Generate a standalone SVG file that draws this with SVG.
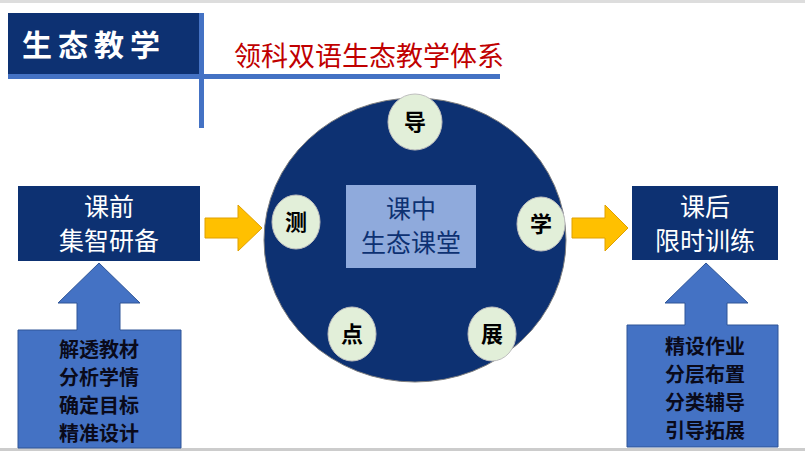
<svg xmlns="http://www.w3.org/2000/svg" width="805" height="451" viewBox="0 0 805 451">
<style>
.cjk{font-family:"Noto Sans CJK SC","Liberation Sans",sans-serif}
.dot{fill:#E2EFD9;stroke:#BFBFBF;stroke-width:1}
.dt{font-size:22px;font-weight:bold;fill:#000;text-anchor:middle}
.bx{fill:#0D3172}
.bt{font-size:25px;fill:#fff;text-anchor:middle}
.lst{font-size:20px;font-weight:bold;fill:#0a0a1a;text-anchor:middle}
.up{fill:#4472C4;stroke:#2F5597;stroke-width:1}
.ya{fill:#FFC000;stroke:#E0A000;stroke-width:1}
</style>
<rect width="805" height="451" fill="#fff"/>
<rect x="0" y="0" width="805" height="3" fill="#ddd"/>
<rect x="0" y="448" width="805" height="3" fill="#ccc"/>
<g id="title">
<rect x="8" y="13" width="192" height="62" fill="#0D3172"/>
<text x="22" y="56" class="cjk" font-size="30" font-weight="bold" fill="#fff" letter-spacing="6">生态教学</text>
<rect x="8" y="74" width="492" height="5" fill="#4472C4"/>
<rect x="199" y="13" width="5" height="115" fill="#4472C4"/>
<text x="234" y="66" class="cjk" font-size="27" fill="#C00000">领科双语生态教学体系</text>
</g>
<g id="circle">
<ellipse cx="415" cy="240" rx="151" ry="142" fill="#0D3172" stroke="#7f7f7f" stroke-width="1"/>
<rect x="346" y="185" width="130" height="83" fill="#8FAADC"/>
<text x="411" y="218" class="cjk" font-size="25" fill="#0D3172" text-anchor="middle">课中</text>
<text x="411" y="252" class="cjk" font-size="25" fill="#0D3172" text-anchor="middle">生态课堂</text>
</g>
<g id="dao"><ellipse class="dot" cx="415" cy="122" rx="27" ry="28"/><text class="cjk dt" x="415" y="130">导</text></g>
<g id="ce"><ellipse class="dot" cx="296" cy="222" rx="24" ry="27"/><text class="cjk dt" x="296" y="230">测</text></g>
<g id="xue"><ellipse class="dot" cx="541" cy="224" rx="24" ry="27"/><text class="cjk dt" x="541" y="232">学</text></g>
<g id="dian"><ellipse class="dot" cx="352" cy="334" rx="24" ry="27"/><text class="cjk dt" x="352" y="342">点</text></g>
<g id="zhan"><ellipse class="dot" cx="492" cy="334" rx="24" ry="27"/><text class="cjk dt" x="492" y="342">展</text></g>
<g id="pre">
<rect class="bx" x="18" y="186" width="182" height="75"/>
<text class="cjk bt" x="109" y="216">课前</text>
<text class="cjk bt" x="109" y="250">集智研备</text>
</g>
<g id="post">
<rect class="bx" x="632" y="186" width="146" height="74"/>
<text class="cjk bt" x="705" y="216">课后</text>
<text class="cjk bt" x="705" y="250">限时训练</text>
</g>
<g id="preList">
<polygon class="up" points="99,263 140,303 120,303 120,330 181,330 181,448 18,448 18,330 77,330 77,303 58,303"/>
<text class="cjk lst" x="99" y="357">解透教材</text>
<text class="cjk lst" x="99" y="385">分析学情</text>
<text class="cjk lst" x="99" y="413">确定目标</text>
<text class="cjk lst" x="99" y="441">精准设计</text>
</g>
<g id="postList">
<polygon class="up" points="706,263 748,303 727,303 727,325 778,325 778,447 627,447 627,325 685,325 685,303 665,303"/>
<text class="cjk lst" x="705" y="354">精设作业</text>
<text class="cjk lst" x="705" y="382">分层布置</text>
<text class="cjk lst" x="705" y="410">分类辅导</text>
<text class="cjk lst" x="705" y="438">引导拓展</text>
</g>
<g id="connectors">
<polygon class="ya" points="205,218 238,218 238,205 262,228 238,251 238,238 205,238"/>
<polygon class="ya" points="572,218 605,218 605,205 628,228 605,251 605,238 572,238"/>
</g>
</svg>
